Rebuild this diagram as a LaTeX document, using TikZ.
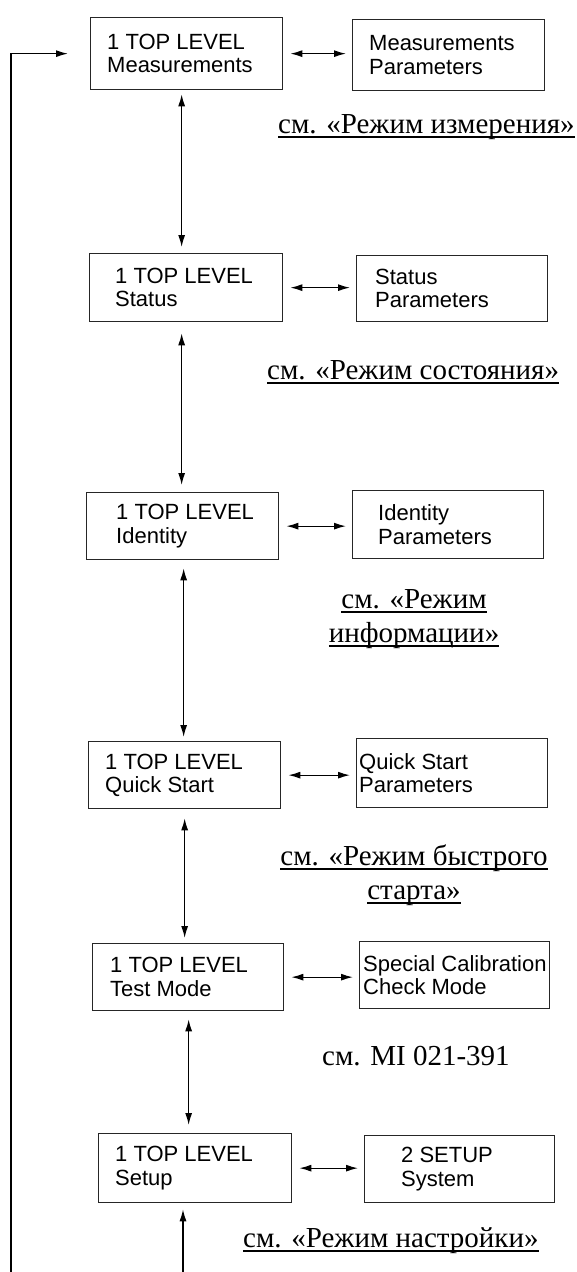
\documentclass[tikz,border=0pt]{standalone}
\usepackage{fontspec}
\setmainfont{Liberation Serif}
\newfontfamily\boxfont{Liberation Sans}
\usetikzlibrary{arrows.meta}
\newsavebox\ulbox
\newcommand\ulx[1]{\sbox\ulbox{#1}\rlap{\rule[-4.5pt]{\wd\ulbox}{1.8pt}}\usebox\ulbox}
\begin{document}
\begin{tikzpicture}[x=1pt,y=-1pt,
  box/.style={draw=black!85, line width=1.3pt, anchor=north west, inner sep=0pt},
  txt/.style={anchor=west, align=left, inner sep=0pt, text=black, font=\boxfont\fontsize{22}{23.5}\selectfont},
  capt/.style={inner sep=0pt, align=center, font=\fontsize{29}{34}\selectfont},
  link/.style={line width=1.3pt, {Latex[length=12pt,width=7pt]}-{Latex[length=12pt,width=7pt]}},
  fwd/.style={line width=1.3pt, -{Latex[length=12pt,width=7pt]}}]
\useasboundingbox (0,0) rectangle (577,1272);
% boxes
\node[box, minimum width=192pt, minimum height=72pt] (L1) at (90,17) {};
\node[txt] (L1t) at ([xshift=17pt]L1.west) {1 TOP LEVEL\\Measurements};
\node[box, minimum width=192pt, minimum height=71pt] (R1) at (352,19) {};
\node[txt] (R1t) at ([xshift=17pt]R1.west) {Measurements\\Parameters};
\node[box, minimum width=193pt, minimum height=68pt] (L2) at (89,253) {};
\node[txt] (L2t) at ([xshift=26pt]L2.west) {1 TOP LEVEL\\Status};
\node[box, minimum width=191pt, minimum height=66pt] (R2) at (356,255) {};
\node[txt] (R2t) at ([xshift=19pt]R2.west) {Status\\Parameters};
\node[box, minimum width=192pt, minimum height=67pt] (L3) at (86,492) {};
\node[txt] (L3t) at ([xshift=30pt]L3.west) {1 TOP LEVEL\\Identity};
\node[box, minimum width=191pt, minimum height=68pt] (R3) at (352,490) {};
\node[txt] (R3t) at ([xshift=26pt]R3.west) {Identity\\Parameters};
\node[box, minimum width=192pt, minimum height=67pt] (L4) at (88,741) {};
\node[txt] (L4t) at ([xshift=17pt]L4.west) {1 TOP LEVEL\\Quick Start};
\node[box, minimum width=191pt, minimum height=69pt] (R4) at (356,738) {};
\node[txt] (R4t) at ([xshift=3pt]R4.west) {Quick Start\\Parameters};
\node[box, minimum width=191pt, minimum height=67pt] (L5) at (92,943) {};
\node[txt] (L5t) at ([xshift=18pt]L5.west) {1 TOP LEVEL\\Test Mode};
\node[box, minimum width=190pt, minimum height=67pt] (R5) at (359,941) {};
\node[txt] (R5t) at ([xshift=4pt]R5.west) {Special Calibration\\Check Mode};
\node[box, minimum width=193pt, minimum height=69pt] (L6) at (98,1133) {};
\node[txt] (L6t) at ([xshift=17pt]L6.west) {1 TOP LEVEL\\Setup};
\node[box, minimum width=190pt, minimum height=67pt] (R6) at (364,1135) {};
\node[txt] (R6t) at ([xshift=37pt]R6.west) {2 SETUP\\System};
% horizontal links
\foreach \i in {1,...,6}
  \draw[link, shorten <=7pt, shorten >=6pt] (L\i.east) -- (L\i.east -| R\i.west);
% vertical links
\draw[link, shorten <=4pt, shorten >=6pt] ([xshift=-5pt]L1.south) -- ([xshift=-5pt]L1.south |- L2.north);
\draw[link, shorten <=11pt, shorten >=7pt] ([xshift=-4.5pt]L2.south) -- ([xshift=-4.5pt]L2.south |- L3.north);
\draw[link, shorten <=8pt, shorten >=4pt] ([xshift=1pt]L3.south) -- ([xshift=1pt]L3.south |- L4.north);
\draw[link, shorten <=9pt, shorten >=5pt] (L4.south) -- (L4.south |- L5.north);
\draw[link, shorten <=8pt, shorten >=8pt] ([xshift=0.5pt]L5.south) -- ([xshift=0.5pt]L5.south |- L6.north);
\coordinate (bot) at (183,1272);
\draw[fwd, shorten >=6pt] (bot) -- (bot |- L6.south);
% loop back
\coordinate (loop) at (11,1272);
\draw[fwd, shorten >=22pt] (loop) |- (L1.west);
% captions
\node[capt, anchor=base west] (c1) at (278,133) {\ulx{см. «Режим измерения»}};
\node[capt, anchor=base west] (c2) at (267,379) {\ulx{см. «Режим состояния»}};
\node[capt, anchor=base] (c3) at (414,642) {\ulx{см. «Режим}\\\ulx{информации»}};
\node[capt, anchor=base] (c4) at (414,899) {\ulx{см. «Режим быстрого}\\\ulx{старта»}};
\node[capt, anchor=base west] (c5) at (322,1065) {см. MI 021-391};
\node[capt, anchor=base west] (c6) at (243,1247) {\ulx{см. «Режим настройки»}};
\end{tikzpicture}
\end{document}
